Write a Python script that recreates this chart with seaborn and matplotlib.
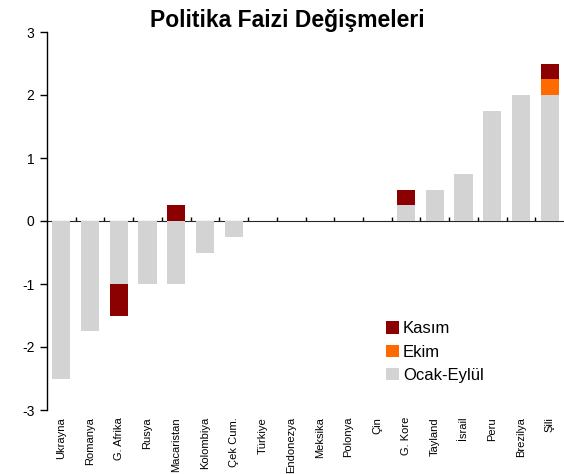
import numpy as np
import matplotlib
matplotlib.use("Agg")
import matplotlib.pyplot as plt
import seaborn as sns
from matplotlib.patches import Patch

countries = ["Ukrayna", "Romanya", "G. Afrika", "Rusya", "Macaristan", "Kolombiya",
             "Çek Cum.", "Türkiye", "Endonezya", "Meksika", "Polonya", "Çin",
             "G. Kore", "Tayland", "İsrail", "Peru", "Brezilya", "Şili"]
ocak_eylul = [-2.5, -1.75, -1.0, -1.0, -1.0, -0.5, -0.25, 0, 0, 0, 0, 0,
              0.25, 0.5, 0.75, 1.75, 2.0, 2.0]
ekim = [0, 0, 0, 0, 0, 0, 0, 0, 0, 0, 0, 0, 0, 0, 0, 0, 0, 0.25]
kasim = [0, 0, -0.5, 0, 0.25, 0, 0, 0, 0, 0, 0, 0, 0.25, 0, 0, 0, 0, 0.25]
series_names = ["Kasım", "Ekim", "Ocak-Eylül"]
yticks = [-3, -2, -1, 0, 1, 2, 3]

c_kasim = "#8B0000"
c_ekim = "#FF6A00"
c_gray = "#D3D3D3"

sns.set_style("white")
plt.rcParams["font.family"] = ["Liberation Sans", "DejaVu Sans"]
plt.rcParams["text.color"] = "black"
plt.rcParams["xtick.color"] = "black"
plt.rcParams["ytick.color"] = "black"

fig = plt.figure(figsize=(5.64, 4.74), dpi=100)
ax = fig.add_axes([47 / 564, 1 - 410 / 474, 517 / 564, 378 / 474])

g = np.array(ocak_eylul, float)
e = np.array(ekim, float)
k = np.array(kasim, float)

layers = [(g, c_gray), (e, c_ekim), (k, c_kasim)]
for sign in (1, -1):
    parts = [np.where(sign * arr > 0, arr, 0.0) for arr, _ in layers]
    cums = np.cumsum(parts, axis=0)
    # draw top layer first, then lower layers on top
    for idx in (2, 1, 0):
        sns.barplot(x=countries, y=cums[idx], order=countries, color=layers[idx][1],
                    saturation=1, width=0.63, linewidth=0, ax=ax)

ax.set_xlim(-0.5, len(countries) - 0.5)
ax.set_ylim(-3, 3)
ax.set_yticks(yticks)
ax.set_yticklabels([str(t) for t in yticks])
ax.tick_params(axis="y", direction="out", length=5, width=1, color="black",
               labelcolor="black", labelsize=10, pad=4, left=True)
ax.set_xticks(range(len(countries)))
ax.set_xticklabels(countries, rotation=90, fontsize=8, va="top", ha="center")
ax.tick_params(axis="x", length=0, pad=5, labelcolor="black")
ax.set_xlabel("")
ax.set_ylabel("")

for s in ("top", "right", "bottom"):
    ax.spines[s].set_visible(False)
ax.spines["left"].set_color("black")
ax.spines["left"].set_linewidth(1.0)

sec = ax.secondary_xaxis(0.5)
sec.set_xticks(np.arange(0.5, len(countries) - 0.5, 1))
sec.set_xticklabels([])
sec.tick_params(axis="x", direction="out", length=3, width=1, color="black")
sec.spines["bottom"].set_color("black")
sec.spines["bottom"].set_linewidth(1.0)

fig.text(287 / 564, 1 - 20 / 474, "Politika Faizi Değişmeleri", ha="center", va="center",
         fontsize=16.5, fontweight="bold", color="black")

handles = [Patch(facecolor=c_kasim, edgecolor="none"),
           Patch(facecolor=c_ekim, edgecolor="none"),
           Patch(facecolor=c_gray, edgecolor="none")]
fig.legend(handles, series_names, loc="upper left",
           bbox_to_anchor=(383 / 564, 1 - 318 / 474), frameon=False, fontsize=12,
           handlelength=0.75, handleheight=0.75, handletextpad=0.25, labelspacing=0.5,
           borderaxespad=0, borderpad=0.2, labelcolor="black")

fig.savefig("out.png", dpi=100)
